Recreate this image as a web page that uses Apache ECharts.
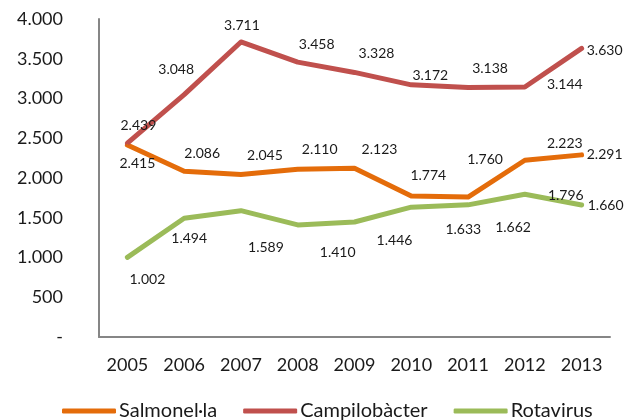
<!DOCTYPE html>
<html>
<head>
<meta charset="utf-8">
<script src="https://cdn.jsdelivr.net/npm/echarts@6/dist/echarts.min.js"></script>
<style>
  html, body { margin: 0; padding: 0; background: #fff; }
  #chart { width: 625px; height: 420px; }
</style>
</head>
<body>
<div id="chart"></div>
<script>
  // dades
  var years = ['2005', '2006', '2007', '2008', '2009', '2010', '2011', '2012', '2013'];
  var salmonella = [2415, 2086, 2045, 2110, 2123, 1774, 1760, 2223, 2291];
  var campilobacter = [2439, 3048, 3711, 3458, 3328, 3172, 3138, 3144, 3630];
  var rotavirus = [1002, 1494, 1589, 1410, 1446, 1633, 1662, 1796, 1660];

  // posicio de les etiquetes (com a l'Excel original)
  var salmOffsets = [[10, 18], [18, -18], [24, -19], [22, -20], [25, -19], [17, -20], [17, -38], [40, -17], [23, 0]];
  var campOffsets = [[11, -18], [-8, -25], [1, -16], [19, -18], [22, -19], [19, -9], [22, -19], [40, -3], [23, 2]];
  var rotaOffsets = [[20, 22], [5, 20], [25, 37], [40, 28], [40, 18], [52, 22], [45, 23], [41, 1], [24, 0]];

  var font = 'Lato, "Open Sans", sans-serif';

  function fmt(v) {
    if (v === 0) return '-';
    return String(v).replace(/\B(?=(\d{3})+(?!\d))/g, '.');
  }

  function mkSeries(name, values, offsets, color) {
    return {
      name: name,
      type: 'line',
      symbol: 'circle',
      symbolSize: 2,
      itemStyle: { color: color },
      lineStyle: { color: color, width: 5, cap: 'round', join: 'round' },
      label: {
        show: true,
        position: 'inside',
        color: '#1a1a1a',
        fontFamily: font,
        fontSize: 14,
        formatter: function (p) { return fmt(p.value); }
      },
      emphasis: { disabled: true },
      animation: false,
      data: values.map(function (v, i) {
        return { value: v, label: { offset: offsets[i] } };
      })
    };
  }

  var chart = echarts.init(document.getElementById('chart'));
  var option = {
    backgroundColor: '#fff',
    grid: { left: 99, right: 15, top: 19, bottom: 83 },
    legend: {
      left: 62,
      top: 401,
      padding: 0,
      itemWidth: 54,
      itemHeight: 5,
      itemGap: 26,
      icon: 'roundRect',
      textStyle: { fontFamily: font, fontSize: 20, color: '#1a1a1a', padding: [0, 0, 0, -2] },
      data: ['Salmonel·la', 'Campilobàcter', 'Rotavirus']
    },
    xAxis: {
      type: 'category',
      data: years,
      boundaryGap: true,
      axisLine: { lineStyle: { color: '#868686', width: 2 } },
      axisTick: { show: false },
      axisLabel: { fontFamily: font, fontSize: 18, color: '#1a1a1a', margin: 19 }
    },
    yAxis: {
      type: 'value',
      min: 0,
      max: 4000,
      interval: 500,
      axisLine: { show: true, lineStyle: { color: '#868686', width: 2 } },
      axisTick: { show: false },
      splitLine: { show: false },
      axisLabel: { fontFamily: font, fontSize: 18, color: '#1a1a1a', margin: 36, formatter: fmt }
    },
    series: [
      mkSeries('Salmonel·la', salmonella, salmOffsets, '#E46C0A'),
      mkSeries('Campilobàcter', campilobacter, campOffsets, '#C0504D'),
      mkSeries('Rotavirus', rotavirus, rotaOffsets, '#9BBB59')
    ]
  };
  chart.setOption(option);
</script>
</body>
</html>
